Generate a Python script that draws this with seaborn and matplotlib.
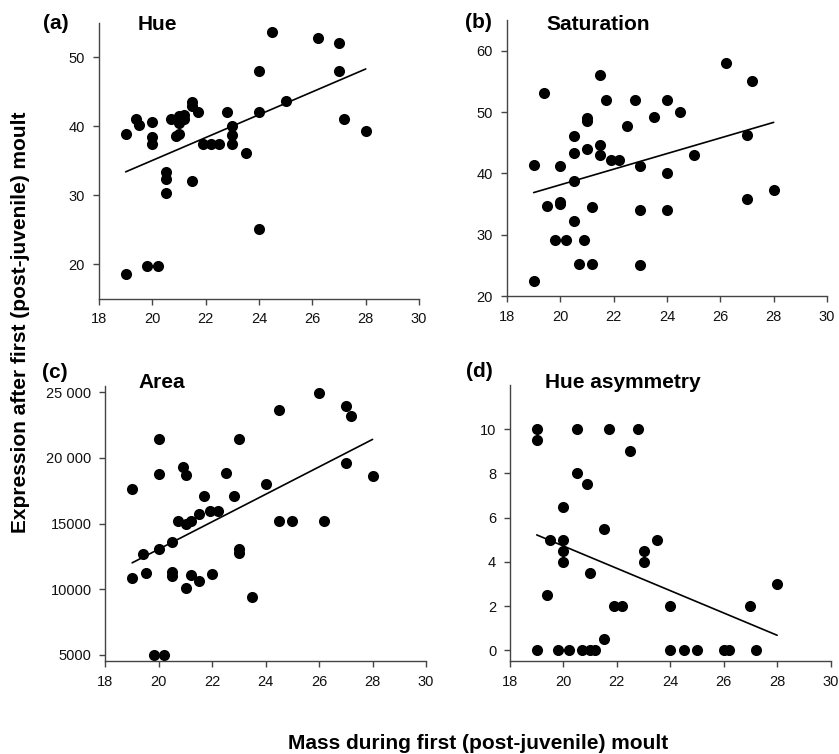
# -*- coding: utf-8 -*-

"""
    Plumage expression after first moult vs. mass during the moult
"""

import matplotlib
matplotlib.use('Agg')
import matplotlib.pyplot as plt
import seaborn as sns

# mass during first (post-juvenile) moult
hue_mass = [19.0, 19.0, 19.4, 19.5, 20.0, 20.0, 20.0, 19.8, 20.2, 20.5, 20.5, 20.5, 20.7, 20.9,
            21.0, 21.0, 21.0, 21.2, 21.2, 21.5, 21.5, 21.7, 21.5, 21.9, 22.2, 22.5, 22.8, 23.0,
            23.0, 23.0, 23.5, 24.0, 24.0, 24.0, 24.5, 25.0, 26.2, 27.0, 27.0, 27.2, 28.0]
hue_val = [38.9, 18.6, 41.0, 40.1, 40.6, 38.4, 37.4, 19.7, 19.7, 33.4, 32.4, 30.3, 41.0, 38.6,
           38.9, 40.4, 41.4, 41.6, 41.0, 43.5, 42.9, 42.1, 32.0, 37.4, 37.4, 37.4, 42.0, 40.0,
           38.7, 37.4, 36.1, 48.0, 42.0, 25.1, 53.7, 43.7, 52.8, 52.0, 48.0, 41.0, 39.3]

sat_mass = [19.0, 19.0, 19.4, 19.5, 19.8, 20.0, 20.0, 20.0, 20.2, 20.5, 20.5, 20.5, 20.5, 20.7,
            20.9, 21.0, 21.0, 21.0, 21.2, 21.2, 21.5, 21.5, 21.5, 21.7, 21.9, 22.2, 22.5, 22.8,
            23.0, 23.0, 23.0, 23.5, 24.0, 24.0, 24.0, 24.5, 25.0, 26.2, 27.0, 27.0, 27.2, 28.0]
sat_val = [41.3, 22.4, 53.1, 34.7, 29.1, 41.2, 35.4, 35.0, 29.1, 46.1, 43.4, 38.7, 32.2, 25.2,
           29.1, 49.1, 48.5, 43.9, 34.5, 25.2, 56.1, 44.7, 43.0, 51.9, 42.1, 42.1, 47.7, 51.9,
           41.2, 34.0, 25.0, 49.2, 51.9, 40.0, 34.0, 50.0, 43.0, 58.0, 46.3, 35.8, 55.1, 37.3]

area_mass = [19.0, 19.0, 19.4, 19.5, 19.8, 20.2, 20.0, 20.0, 20.0, 20.5, 20.5, 20.5, 20.7, 20.9,
             21.0, 21.0, 21.0, 21.2, 21.2, 21.5, 21.5, 21.7, 21.9, 22.2, 22.0, 22.5, 22.8, 23.0,
             23.0, 23.0, 23.5, 24.0, 24.5, 24.5, 25.0, 26.0, 26.2, 27.0, 27.0, 27.2, 28.0]
area_val = [17650, 10830, 12680, 11210, 5000, 5000, 21450, 18740, 13040, 13620, 11340, 11010,
            15220, 19300, 18690, 14960, 10070, 15220, 11060, 15700, 10630, 17070, 15980, 15980,
            11160, 18820, 17070, 21450, 13040, 12780, 9440, 18050, 23630, 15160, 15160, 24920,
            15160, 23940, 19630, 23200, 18660]

asym_mass = [19.0, 19.0, 19.0, 19.4, 19.5, 19.8, 20.0, 20.0, 20.0, 20.0, 20.2, 20.5, 20.5, 20.7,
             20.9, 21.0, 21.0, 21.2, 21.5, 21.5, 21.7, 21.9, 22.2, 22.5, 22.8, 23.0, 23.0, 23.5,
             24.0, 24.0, 24.5, 25.0, 26.0, 26.2, 27.0, 27.2, 28.0]
asym_val = [10, 9.5, 0, 2.5, 5, 0, 6.5, 5, 4.5, 4, 0, 10, 8, 0,
            7.5, 3.5, 0, 0, 5.5, 0.5, 10, 2, 2, 9, 10, 4.5, 4, 5,
            2, 0, 0, 0, 0, 0, 2, 0, 3]

x_ticks = [18, 20, 22, 24, 26, 28, 30]
area_ticks = [5000, 10000, 15000, 20000, 25000]
area_tick_labels = ['5000', '10000', '15000', '20 000', '25 000']

sns.set_style('ticks')
plt.rcParams['font.family'] = ['Liberation Sans', 'DejaVu Sans']
plt.rcParams['text.color'] = 'black'

W, H = 839, 754
fig = plt.figure(figsize=(W / 100, H / 100), dpi=100)

# axes box (fig fractions), y limits, y ticks, letter / name positions in pixels (x, baseline)
panels = [
    ('(a)', 'Hue', hue_mass, hue_val, [0.118, 0.604, 0.3815, 0.366], (15, 55),
     [20, 30, 40, 50], (43, 29), (138, 30)),
    ('(b)', 'Saturation', sat_mass, sat_val, [0.6043, 0.6074, 0.3814, 0.366], (20, 65),
     [20, 30, 40, 50, 60], (465, 28), (546, 30)),
    ('(c)', 'Area', area_mass, area_val, [0.1257, 0.1229, 0.382, 0.3655], (4500, 25500),
     area_ticks, (42, 378), (138, 388)),
    ('(d)', 'Hue asymmetry', asym_mass, asym_val, [0.6079, 0.1229, 0.382, 0.3665], (-0.5, 12),
     [0, 2, 4, 6, 8, 10], (466, 377), (545, 388)),
]

for tag, name, xs, ys, box, ylim, yticks, tag_pos, name_pos in panels:
    ax = fig.add_axes(box)
    # scatter + least squares line over the data range
    sns.regplot(x=xs, y=ys, ax=ax, ci=None, color='black', truncate=True,
                scatter_kws=dict(s=64, linewidths=0, alpha=1),
                line_kws=dict(lw=1.2, color='black'))
    ax.set_xlim(18, 30)
    ax.set_ylim(*ylim)
    ax.set_xticks(x_ticks)
    ax.set_yticks(yticks)
    if name == 'Area':
        ax.set_yticklabels(area_tick_labels)
    sns.despine(ax=ax)
    for side in ['left', 'bottom']:
        ax.spines[side].set_color('#444444')
        ax.spines[side].set_linewidth(1.0)
    ax.tick_params(direction='out', length=4, width=1.0, color='#444444',
                   labelsize=10.5, labelcolor='#111111', pad=6)

    # panel letter and trait name
    fig.text(tag_pos[0] / W, 1 - tag_pos[1] / H, tag, fontsize=15, fontweight='bold', va='baseline')
    fig.text(name_pos[0] / W, 1 - name_pos[1] / H, name, fontsize=15, fontweight='bold', va='baseline')

fig.text(0.57, 1 - 749 / H, 'Mass during first (post-juvenile) moult', fontsize=15,
         fontweight='bold', ha='center', va='baseline')
fig.text(0.024, 1 - 322 / H, 'Expression after first (post-juvenile) moult', fontsize=15,
         fontweight='bold', ha='center', va='center', rotation=90)

plt.savefig('out.png', dpi=100)
